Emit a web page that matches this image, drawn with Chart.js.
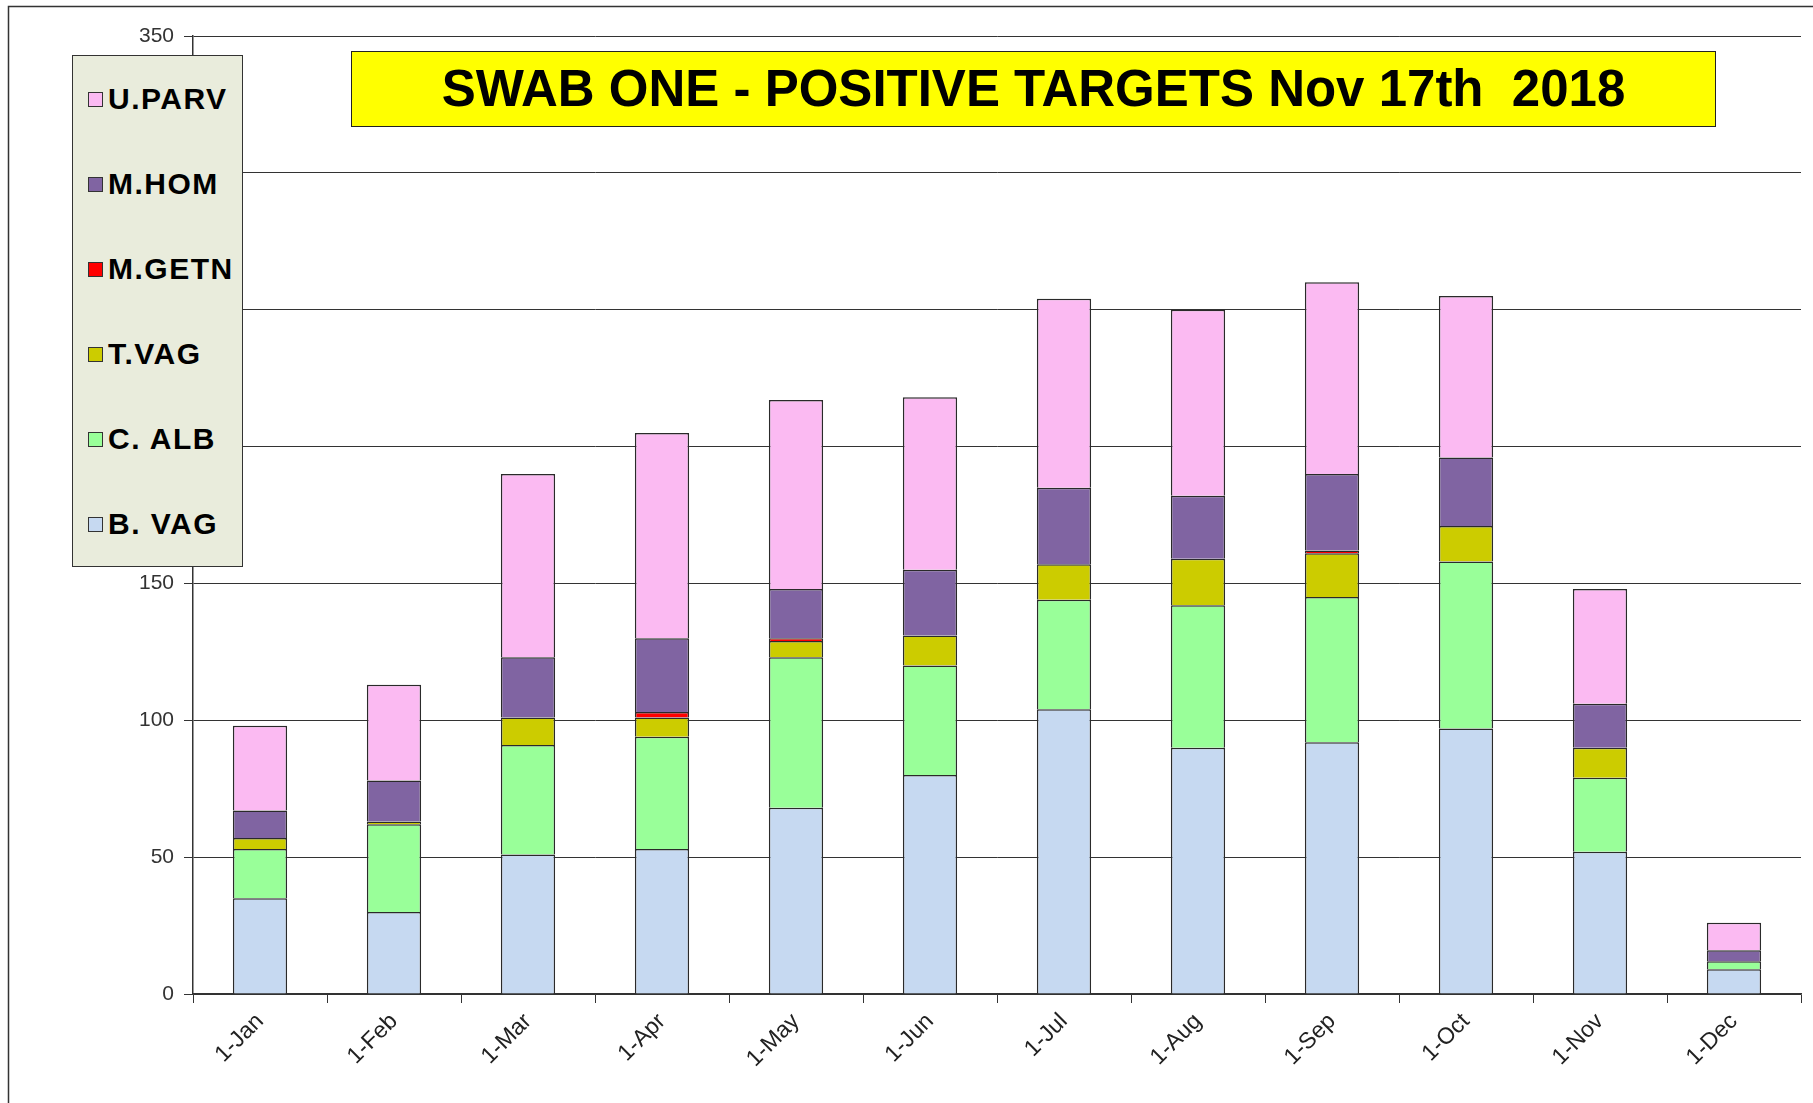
<!DOCTYPE html>
<html lang="en">
<head>
  <meta charset="UTF-8">
  <title>Swab One - Positive Targets</title>
  <script src="https://cdn.jsdelivr.net/npm/chart.js"></script>
  <style>
    body {
      margin: 0;
      background: #ffffff;
      font-family: "Liberation Sans", Arial, sans-serif;
    }

    #wrap {
      position: relative;
      width: 1813px;
      height: 1103px;
      overflow: hidden;
    }

    #title {
      position: absolute;
      left: 351px;
      top: 51px;
      width: 1363px;
      height: 74px;
      background: #ffff00;
      border: 1.5px solid #222;
      font-weight: bold;
      font-size: 51px;
      line-height: 74px;
      text-align: center;
      white-space: pre;
      color: #000;
    }

    #legend {
      position: absolute;
      left: 72px;
      top: 55px;
      width: 169px;
      height: 510px;
      background: #e9ecdc;
      border: 1.5px solid #333;
    }

    .legend-item {
      position: absolute;
      left: 15px;
      display: flex;
      align-items: center;
      height: 40px;
      font-weight: bold;
      font-size: 30px;
      letter-spacing: 1.5px;
      color: #000;
    }

    .legend-color {
      width: 13px;
      height: 13px;
      border: 1.5px solid #333;
      margin-right: 5px;
    }
  </style>
</head>
<body>
  <div id="wrap">
    <canvas id="myChart" width="1813" height="1103"></canvas>
    <div id="title">SWAB ONE - POSITIVE TARGETS Nov 17th  2018</div>
    <div id="legend"></div>
  </div>

  <script>
    // months on the x axis
    const months = ['1-Jan', '1-Feb', '1-Mar', '1-Apr', '1-May', '1-Jun', '1-Jul', '1-Aug', '1-Sep', '1-Oct', '1-Nov', '1-Dec'];

    // series, bottom of the stack first
    const bvag  = [35, 30, 51, 53, 68, 80, 104, 90, 92, 97, 52, 9];
    const calb  = [18, 32, 40, 41, 55, 40, 40, 52, 53, 61, 27, 3];
    const tvag  = [4, 1, 10, 7, 6, 11, 13, 17, 16, 13, 11, 0];
    const mgetn = [0, 0, 0, 2, 1, 0, 0, 0, 1, 0, 0, 0];
    const mhom  = [10, 15, 22, 27, 18, 24, 28, 23, 28, 25, 16, 4];
    const uparv = [31, 35, 67, 75, 69, 63, 69, 68, 70, 59, 42, 10];

    const seriesNames = ['B. VAG', 'C. ALB', 'T.VAG', 'M.GETN', 'M.HOM', 'U.PARV'];
    const seriesData = [bvag, calb, tvag, mgetn, mhom, uparv];
    const seriesColors = ['#c6d9f1', '#99ff99', '#cccc00', '#ff0000', '#8064a2', '#fbbaf2'];

    const yTicks = [0, 50, 100, 150, 200, 250, 300, 350];

    // white page + thin outer frame like the original sheet
    const framePlugin = {
      id: 'frame',
      beforeDraw(chart) {
        const c = chart.ctx;
        c.save();
        c.fillStyle = '#ffffff';
        c.fillRect(0, 0, chart.width, chart.height);
        c.strokeStyle = '#333';
        c.lineWidth = 1.5;
        c.strokeRect(8.5, 6.5, 2000, 2000);
        c.restore();
      }
    };

    const ctx = document.getElementById('myChart').getContext('2d');
    const myChart = new Chart(ctx, {
      type: 'bar',
      data: {
        labels: months,
        datasets: seriesNames.map((name, i) => ({
          label: name,
          data: seriesData[i],
          backgroundColor: seriesColors[i],
          borderColor: '#2a2a2a',
          borderWidth: 1.5,
          borderSkipped: 'start',
          categoryPercentage: 1,
          barPercentage: 0.405
        }))
      },
      options: {
        responsive: false,
        animation: false,
        layout: {
          padding: { left: 0, top: 36, right: 12, bottom: 0 }
        },
        plugins: {
          legend: { display: false },
          tooltip: { enabled: false }
        },
        scales: {
          x: {
            stacked: true,
            offset: true,
            afterFit(scale) { scale.height = 109; },
            grid: {
              offset: true,
              drawOnChartArea: false,
              tickLength: 9,
              color: '#333'
            },
            border: { color: '#333', width: 1.5 },
            ticks: {
              minRotation: 45,
              maxRotation: 45,
              padding: 5,
              color: '#222',
              font: { family: 'Liberation Sans', size: 23 }
            }
          },
          y: {
            stacked: true,
            min: 0,
            max: 350,
            afterFit(scale) { scale.width = 193; },
            afterBuildTicks(scale) {
              scale.ticks = yTicks.map(v => ({ value: v }));
            },
            grid: {
              color: '#333',
              lineWidth: 1,
              tickLength: 9
            },
            border: { color: '#333', width: 1.5 },
            ticks: {
              padding: 10,
              color: '#333',
              font: { family: 'Liberation Sans', size: 21 }
            }
          }
        }
      },
      plugins: [framePlugin]
    });

    // legend box, top entry is the top of the stack
    const legend = document.getElementById('legend');
    for (let k = 0; k < seriesNames.length; k++) {
      const i = seriesNames.length - 1 - k;
      const item = document.createElement('div');
      item.className = 'legend-item';
      item.style.top = (23 + k * 85) + 'px';
      item.innerHTML = '<div class="legend-color" style="background-color: ' + seriesColors[i] + ';"></div><div>' + seriesNames[i] + '</div>';
      legend.appendChild(item);
    }
  </script>
</body>
</html>
